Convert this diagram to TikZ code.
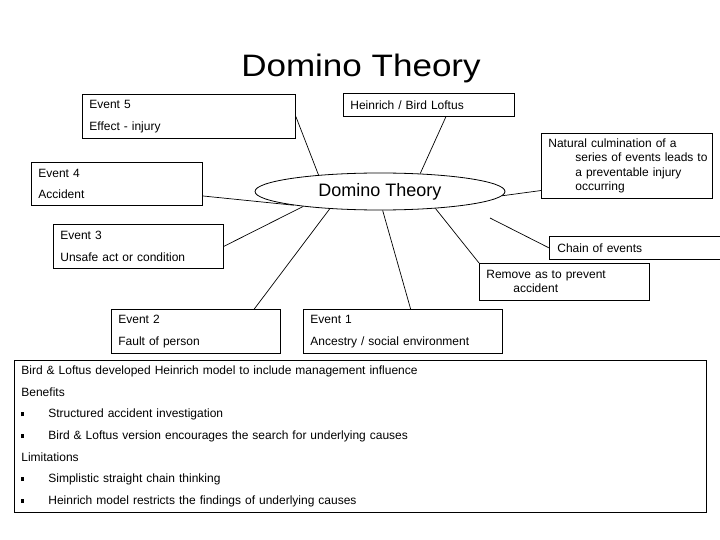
\documentclass[tikz,border=0pt]{standalone}
\usepackage{fontspec}
\setmainfont{Liberation Sans}
\usetikzlibrary{shapes.geometric}
\newcommand{\sqbul}{\makebox[27pt][l]{\rule[1.5pt]{2.5pt}{4pt}}}

\begin{document}
\begin{tikzpicture}[x=1pt,y=1pt,yscale=-1,xscale=1,
    evbox/.style={draw, line width=0.8pt, anchor=north west, inner xsep=7pt, inner ysep=0pt, align=left, font=\fontsize{12}{21.5}\selectfont},
    connect/.style={line width=0.7pt}]
\useasboundingbox (0,0) rectangle (720,540);

% title and centre
\node (title) [anchor=base] at (361,77) {\fontsize{31}{31}\selectfont\scalebox{1.13}[1]{Domino Theory}};
\node (dom) [ellipse, draw, line width=0.8pt, minimum width=250pt, minimum height=37pt, inner sep=0pt, font=\fontsize{18}{18}\selectfont] at (380,191.5) {Domino Theory};

% boxes
\node (ev5) [evbox] [text width=199pt, minimum height=44pt] at (82,94) {Event 5\\Effect - injury};
\node (heinrich) [evbox] [text width=157pt, minimum height=23pt] at (343,93) {Heinrich / Bird Loftus};
\node (ev4) [evbox] [text width=157pt, minimum height=43pt] at (31,162) {Event 4\\Accident};
\node (ev3) [evbox] [text width=156pt, minimum height=44pt] at (53,224) {Event 3\\Unsafe act or condition};
\node (natural) [evbox] [text width=157pt, minimum height=65pt, font=\fontsize{12}{14.3}\selectfont] at (541,133) {\mbox{Natural culmination of a}\\\hspace*{27pt}\mbox{series of events leads to}\\\hspace*{27pt}\mbox{a preventable injury}\\\hspace*{27pt}occurring};
\node (chain) [evbox] [inner xsep=8pt, text width=158pt, minimum height=23pt] at (549,236) {Chain of events};
\node (remove) [evbox] [text width=156pt, minimum height=37pt, font=\fontsize{12}{14}\selectfont] at (479,263) {Remove as to prevent\\\hspace*{27pt}accident};
\node (ev2) [evbox] [text width=155pt, minimum height=44pt] at (111,309) {Event 2\\Fault of person};
\node (ev1) [evbox] [text width=185pt, minimum height=44pt] at (303,309) {Event 1\\Ancestry / social environment};
\node (notes) [evbox] [text width=678pt, minimum height=152pt, font=\fontsize{12}{21.6}\selectfont] at (14,360) {Bird \& Loftus developed Heinrich model to include management influence\\
Benefits\\
\sqbul Structured accident investigation\\
\sqbul Bird \& Loftus version encourages the search for underlying causes\\
Limitations\\
\sqbul Simplistic straight chain thinking\\
\sqbul Heinrich model restricts the findings of underlying causes};

\coordinate (chainend) at (490,218);

% connectors
\draw [connect] (ev5.east) -- (dom.165);
\draw [connect] (heinrich.-35) -- (dom.24);
\draw [connect] (ev4.-8) -- (dom.189);
\draw [connect] (ev3.east) -- (dom.191);
\draw [connect] (ev2.21) -- (dom.199);
\draw [connect] (ev1.71) -- (dom.278);
\draw [connect] (remove.north west) -- (dom.343);
\draw [connect] (chain.west) -- (chainend);
\draw [connect] (natural.196) -- (dom.358);
\end{tikzpicture}
\end{document}
